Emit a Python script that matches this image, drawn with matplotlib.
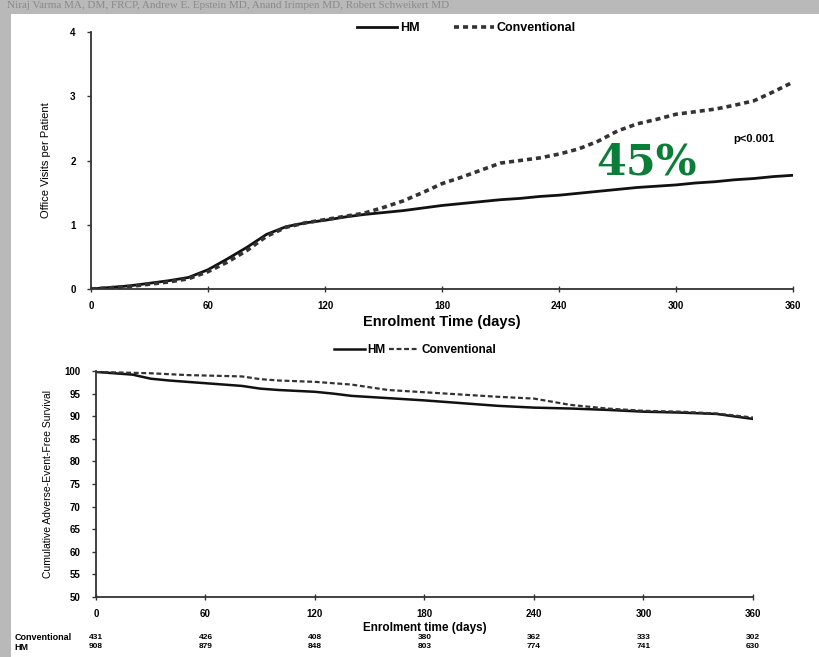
import numpy as np
import matplotlib
matplotlib.use('Agg')
import matplotlib.pyplot as plt
from matplotlib.patches import Rectangle

# ── data ──────────────────────────────────────────────────────────────────
visit_days = [0, 20, 40, 50, 60, 70, 80, 90, 100, 110, 120, 130, 140, 150,
              160, 170, 180, 190, 200, 210, 220, 230, 240, 250, 260, 270,
              280, 290, 300, 310, 320, 330, 340, 350, 360]
visits_hm = [0.00, 0.05, 0.13, 0.18, 0.30, 0.47, 0.65, 0.85, 0.97, 1.03,
             1.07, 1.12, 1.16, 1.19, 1.22, 1.26, 1.30, 1.33, 1.36, 1.39,
             1.41, 1.44, 1.46, 1.49, 1.52, 1.55, 1.58, 1.60, 1.62, 1.65,
             1.67, 1.70, 1.72, 1.75, 1.77]
visits_conv = [0.00, 0.04, 0.11, 0.16, 0.27, 0.42, 0.60, 0.82, 0.96, 1.03,
               1.08, 1.13, 1.18, 1.27, 1.37, 1.50, 1.64, 1.74, 1.85, 1.96,
               2.00, 2.04, 2.10, 2.18, 2.30, 2.46, 2.57, 2.64, 2.72, 2.76,
               2.80, 2.86, 2.93, 3.07, 3.22]

surv_days = [0, 10, 20, 30, 40, 50, 60, 70, 80, 90, 100, 120, 130, 140,
             160, 180, 200, 220, 240, 260, 280, 300, 320, 340, 360]
surv_hm = [99.8, 99.5, 99.2, 98.3, 97.9, 97.6, 97.3, 97.0, 96.7, 96.1,
           95.8, 95.4, 95.0, 94.5, 94.0, 93.5, 92.9, 92.3, 91.9, 91.7,
           91.4, 91.0, 90.8, 90.5, 89.4]
surv_conv = [99.8, 99.7, 99.6, 99.5, 99.3, 99.1, 99.0, 98.9, 98.8, 98.2,
             97.9, 97.6, 97.3, 97.0, 95.8, 95.3, 94.8, 94.3, 93.9, 92.5,
             91.7, 91.2, 91.0, 90.6, 89.7]

risk_days = [0, 60, 120, 180, 240, 300, 360]
risk_conv = [431, 426, 408, 380, 362, 333, 302]
risk_hm = [908, 879, 848, 803, 774, 741, 630]

FONT = 'Liberation Sans'
plt.rcParams.update({'font.family': FONT, 'font.size': 7,
                     'font.weight': 'bold', 'axes.labelweight': 'bold'})

fig = plt.figure(figsize=(8.19, 6.57), dpi=100)
fig.patch.set_facecolor('#b9b9b9')

# heading strip above the white page
fig.text(0.008, 0.999, 'Niraj Varma MA, DM, FRCP, Andrew E. Epstein MD, Anand Irimpen MD, Robert Schweikert MD',
         fontsize=8, color='#8a8a8a', fontweight='normal', va='top',
         family='Liberation Serif', zorder=0)
fig.patches.append(Rectangle((0.014, 0.0), 0.99, 0.979, transform=fig.transFigure,
                             facecolor='white', edgecolor='none', zorder=1))


def style_axes(ax):
    for s in ['top', 'right']:
        ax.spines[s].set_visible(False)
    for s in ['left', 'bottom']:
        ax.spines[s].set_color('#333333')
        ax.spines[s].set_linewidth(1.3)
    ax.tick_params(axis='x', direction='inout', length=5, width=1,
                   color='#333333', labelsize=7, pad=6)
    ax.tick_params(axis='y', direction='out', length=3, width=1,
                   color='#333333', labelsize=7, pad=8)
    ax.set_facecolor('none')
    ax.set_zorder(2)


# ── top: cumulative office visits ─────────────────────────────────────────
ax1 = fig.add_axes([0.1111, 0.5601, 0.8572, 0.3912])
ax1.plot(visit_days, visits_hm, color='#111111', lw=2.0, label='HM')
ax1.plot(visit_days, visits_conv, color='#333333', lw=2.6,
         linestyle=(0, (1.4, 1.1)), label='Conventional')
ax1.set_xlim(0, 360)
ax1.set_ylim(0, 4)
ax1.set_xticks(risk_days)
ax1.set_yticks([0, 1, 2, 3, 4])
ax1.set_xlabel('Enrolment Time (days)', fontsize=10.5, labelpad=3)
ax1.set_ylabel('Office Visits per Patient', fontsize=8, fontweight='normal',
               labelpad=14)
style_axes(ax1)
ax1.legend(loc='center', bbox_to_anchor=(0.535, 1.015), ncol=2,
           frameon=False, fontsize=9, handlelength=3.2, columnspacing=2.8,
           handletextpad=0.2)
ax1.text(340, 2.33, 'p<0.001', fontsize=8, ha='center', va='center')
ax1.text(285, 1.97, '45%', fontsize=31, color='#0a7d38',
         family='DejaVu Serif', fontweight='bold', ha='center', va='center')

# ── bottom: adverse-event-free survival ───────────────────────────────────
ax2 = fig.add_axes([0.1172, 0.0913, 0.8022, 0.344])
ax2.plot(surv_days, surv_hm, color='#111111', lw=1.8, label='HM')
ax2.plot(surv_days, surv_conv, color='#333333', lw=1.6,
         linestyle=(0, (2.2, 1.2)), label='Conventional')
ax2.set_xlim(0, 360)
ax2.set_ylim(50, 100)
ax2.set_xticks(risk_days)
ax2.set_yticks(np.arange(50, 101, 5))
ax2.set_xlabel('Enrolment time (days)', fontsize=8.5, labelpad=2)
ax2.set_ylabel('Cumulative Adverse-Event-Free Survival', fontsize=7.5,
               fontweight='normal', labelpad=8)
style_axes(ax2)
ax2.legend(loc='center', bbox_to_anchor=(0.486, 1.093), ncol=2,
           frameon=False, fontsize=8.5, handlelength=2.6, columnspacing=0.3,
           handletextpad=0.2)

# numbers at risk below the survival axis
for d, c, h in zip(risk_days, risk_conv, risk_hm):
    ax2.text(d, -0.177, str(c), transform=ax2.get_xaxis_transform(),
             ha='center', va='center', fontsize=6)
    ax2.text(d, -0.221, str(h), transform=ax2.get_xaxis_transform(),
             ha='center', va='center', fontsize=6)
fig.text(0.018, 0.030, 'Conventional', fontsize=6.5, va='center')
fig.text(0.018, 0.015, 'HM', fontsize=6.5, va='center')

fig.savefig('out.png', dpi=100)
